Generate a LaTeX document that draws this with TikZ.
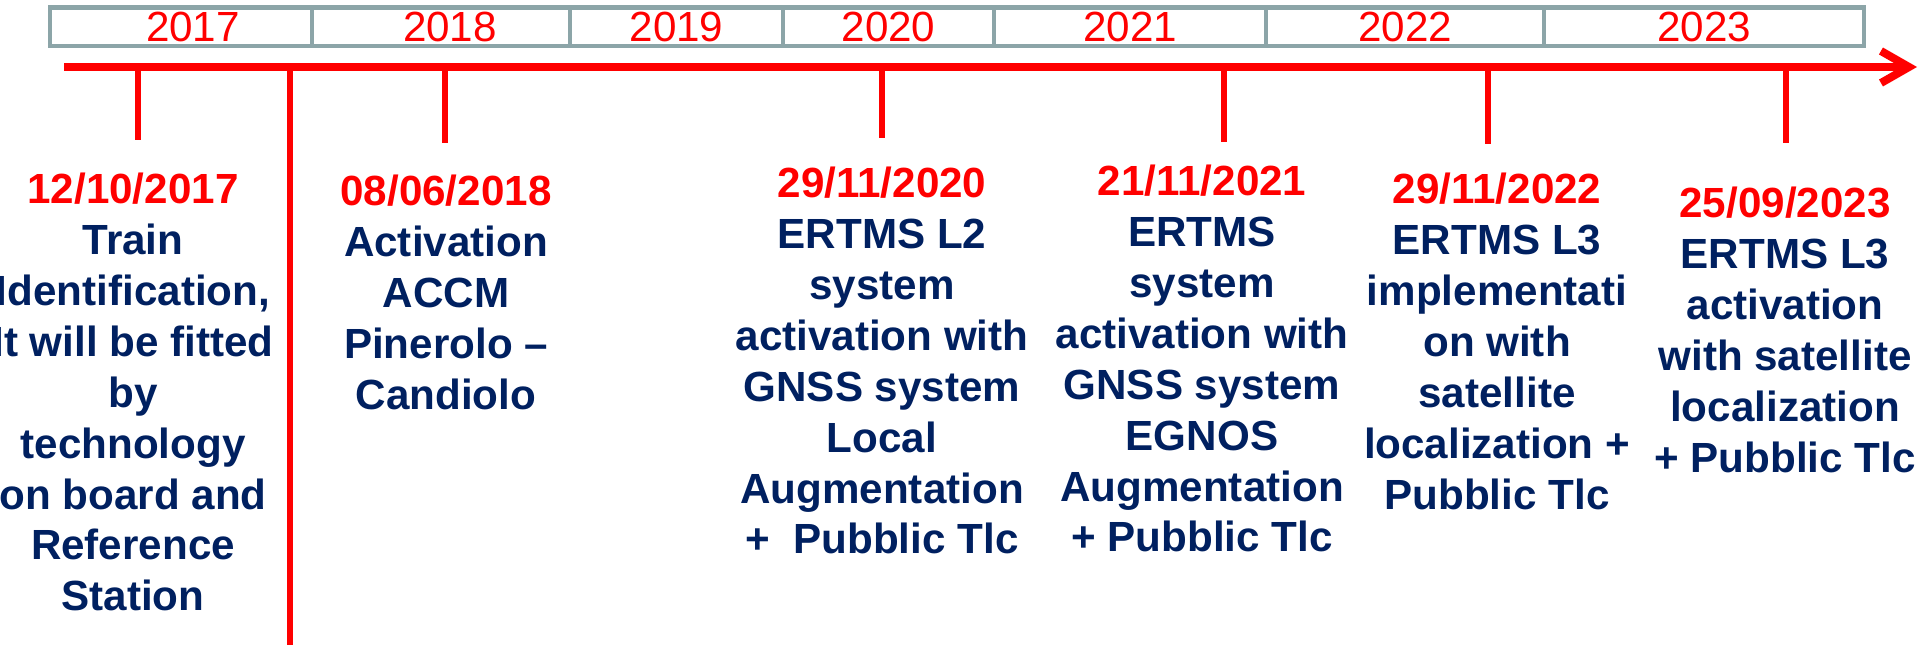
\documentclass[tikz,border=0pt]{standalone}
\usepackage{fontspec}
\setmainfont{Liberation Sans}
\usetikzlibrary{arrows.meta}

\definecolor{tlred}{RGB}{255,0,0}
\definecolor{tlnavy}{RGB}{0,32,96}
\definecolor{tlgray}{RGB}{140,165,168}

\tikzset{
  yearbox/.style={draw=tlgray, line width=1.3pt, minimum height=0.385cm, inner sep=0pt, outer sep=0pt, anchor=west, text=tlred, font=\fontsize{12}{14.5}\selectfont},
  milestone/.style={align=center, text=tlnavy, inner sep=0pt, anchor=north, font=\bfseries\fontsize{12}{14.5}\selectfont},
  timeline/.style={tlred, line width=0.08cm, -{Straight Barb[length=2.8mm,width=3.2mm]}},
  tickline/.style={tlred, line width=0.06cm}
}

\begin{document}
\begin{tikzpicture}
\useasboundingbox (0,0) rectangle (19.2,-6.45);

% years bar
\node[yearbox, minimum width=2.62cm] (y2017) at (0.50,-0.2675) {\hspace*{0.24cm}2017};
\node[yearbox, minimum width=2.58cm] (y2018) at (3.12,-0.2675) {\hspace*{0.18cm}2018};
\node[yearbox, minimum width=2.13cm] (y2019) at (5.70,-0.2675) {2019};
\node[yearbox, minimum width=2.11cm] (y2020) at (7.83,-0.2675) {2020};
\node[yearbox, minimum width=2.72cm] (y2021) at (9.94,-0.2675) {2021};
\node[yearbox, minimum width=2.78cm] (y2022) at (12.66,-0.2675) {2022};
\node[yearbox, minimum width=3.20cm] (y2023) at (15.44,-0.2675) {2023};

% time axis
\coordinate (tl start) at (0.64,-0.67);
\coordinate (tl end) at (19.17,-0.67);
\draw[timeline] (tl start) -- (tl end);

% ticks
\coordinate (t17) at (1.38,-1.40);
\coordinate (post) at (2.90,-6.50);
\coordinate (t18) at (4.45,-1.43);
\coordinate (t20) at (8.82,-1.38);
\coordinate (t21) at (12.24,-1.42);
\coordinate (t22) at (14.88,-1.44);
\coordinate (t23) at (17.86,-1.43);
\draw[tickline] (t17 |- tl start) -- (t17);
\draw[tickline] (post |- tl start) -- (post);
\draw[tickline] (t18 |- tl start) -- (t18);
\draw[tickline] (t20 |- tl start) -- (t20);
\draw[tickline] (t21 |- tl start) -- (t21);
\draw[tickline] (t22 |- tl start) -- (t22);
\draw[tickline] (t23 |- tl start) -- (t23);

% milestones
\node[milestone] (m17) at (1.33,-1.72) {\textcolor{tlred}{12/10/2017}\\Train\\Identification,\\It will be fitted\\by\\technology\\on board and\\Reference\\Station};
\node[milestone] (m18) at (4.46,-1.74) {\textcolor{tlred}{08/06/2018}\\Activation\\ACCM\\Pinerolo --\\Candiolo};
\node[milestone] (m20) at (8.82,-1.66) {\textcolor{tlred}{29/11/2020}\\ERTMS L2\\system\\activation with\\GNSS system\\Local\\Augmentation\\+\ \ Pubblic Tlc};
\node[milestone] (m21) at (12.02,-1.64) {\textcolor{tlred}{21/11/2021}\\ERTMS\\system\\activation with\\GNSS system\\EGNOS\\Augmentation\\+ Pubblic Tlc};
\node[milestone] (m22) at (14.97,-1.72) {\textcolor{tlred}{29/11/2022}\\ERTMS L3\\implementati\\on with\\satellite\\localization +\\Pubblic Tlc};
\node[milestone] (m23) at (17.85,-1.86) {\textcolor{tlred}{25/09/2023}\\ERTMS L3\\activation\\with satellite\\localization\\+ Pubblic Tlc};
\end{tikzpicture}
\end{document}
